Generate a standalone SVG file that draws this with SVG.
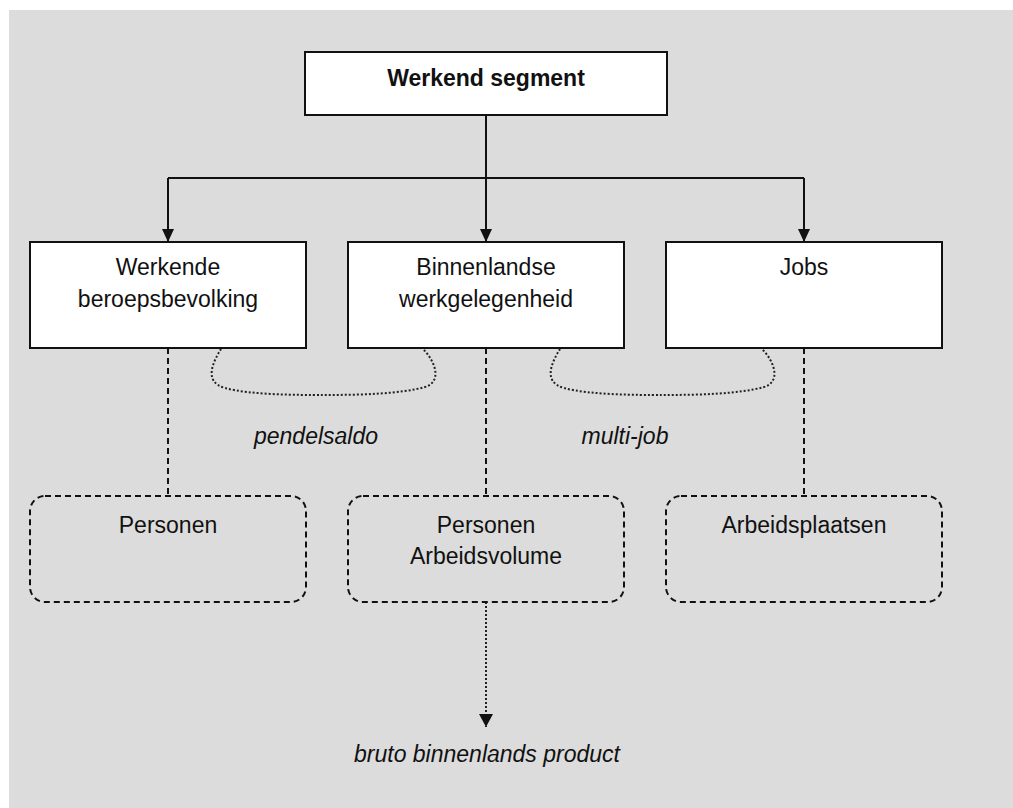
<svg xmlns="http://www.w3.org/2000/svg" width="1013" height="808" viewBox="0 0 1013 808">
<defs>
<style>
text{font-family:"Liberation Sans",Arial,sans-serif;font-size:23px;fill:#111;text-anchor:middle}
.b{font-weight:bold}
.i{font-style:italic}
.box{fill:#fff;stroke:#111;stroke-width:2}
.dbox{fill:none;stroke:#111;stroke-width:2;stroke-dasharray:6,4}
.solid{fill:none;stroke:#111;stroke-width:2}
.dash{fill:none;stroke:#111;stroke-width:2;stroke-dasharray:6,4}
.dot{fill:none;stroke:#222;stroke-width:2;stroke-dasharray:2,2}
</style>
<marker id="ah" viewBox="0 0 13 12" refX="13" refY="6" markerWidth="13" markerHeight="12" markerUnits="userSpaceOnUse" orient="auto">
<path d="M0,0 L13,6 L0,12 Z" fill="#111"/>
</marker>
<marker id="ah2" viewBox="0 0 13 14" refX="13" refY="7" markerWidth="13" markerHeight="14" markerUnits="userSpaceOnUse" orient="auto">
<path d="M0,0 L13,7 L0,14 Z" fill="#111"/>
</marker>
</defs>
<rect x="0" y="0" width="1013" height="808" fill="#fff"/>
<rect x="9" y="10" width="1004" height="798" fill="#dcdcdc"/>

<g id="connectors">
<path class="solid" d="M486,115 V178"/>
<path class="solid" d="M168,178 H804"/>
<path class="solid" d="M168,178 V242" marker-end="url(#ah)"/>
<path class="solid" d="M486,178 V242" marker-end="url(#ah)"/>
<path class="solid" d="M804,178 V242" marker-end="url(#ah)"/>
<path class="dash" d="M168,348 V496"/>
<path class="dash" d="M486,348 V496"/>
<path class="dash" d="M804,348 V496"/>
<path class="dot" d="M221,349 C213,362 203,382 225,388 C250,395 300,395 322,395 C360,395 400,394 425,387 C442,382 436,362 423,349"/>
<path class="dot" d="M560,349 C552,362 542,382 564,388 C589,395 639,395 661,395 C699,395 739,394 764,387 C781,382 775,362 762,349"/>
<path class="dot" d="M486,602 V727" marker-end="url(#ah2)"/>
</g>

<g id="werkend-segment">
<rect class="box" x="305" y="52" width="362" height="63"/>
<text class="b" x="486" y="86">Werkend segment</text>
</g>
<g id="werkende-beroepsbevolking">
<rect class="box" x="30" y="242" width="276" height="106"/>
<text x="168" y="275">Werkende</text>
<text x="168" y="307">beroepsbevolking</text>
</g>
<g id="binnenlandse-werkgelegenheid">
<rect class="box" x="348" y="242" width="276" height="106"/>
<text x="486" y="275">Binnenlandse</text>
<text x="486" y="307">werkgelegenheid</text>
</g>
<g id="jobs">
<rect class="box" x="666" y="242" width="276" height="106"/>
<text x="804" y="275">Jobs</text>
</g>
<g id="personen">
<rect class="dbox" x="30" y="496" width="276" height="106" rx="15"/>
<text x="168" y="533">Personen</text>
</g>
<g id="personen-arbeidsvolume">
<rect class="dbox" x="348" y="496" width="276" height="106" rx="15"/>
<text x="486" y="533">Personen</text>
<text x="486" y="564">Arbeidsvolume</text>
</g>
<g id="arbeidsplaatsen">
<rect class="dbox" x="666" y="496" width="276" height="106" rx="15"/>
<text x="804" y="533">Arbeidsplaatsen</text>
</g>
<g id="labels">
<text class="i" x="316" y="444">pendelsaldo</text>
<text class="i" x="625" y="444">multi-job</text>
<text class="i" x="487" y="762">bruto binnenlands product</text>
</g>
</svg>
